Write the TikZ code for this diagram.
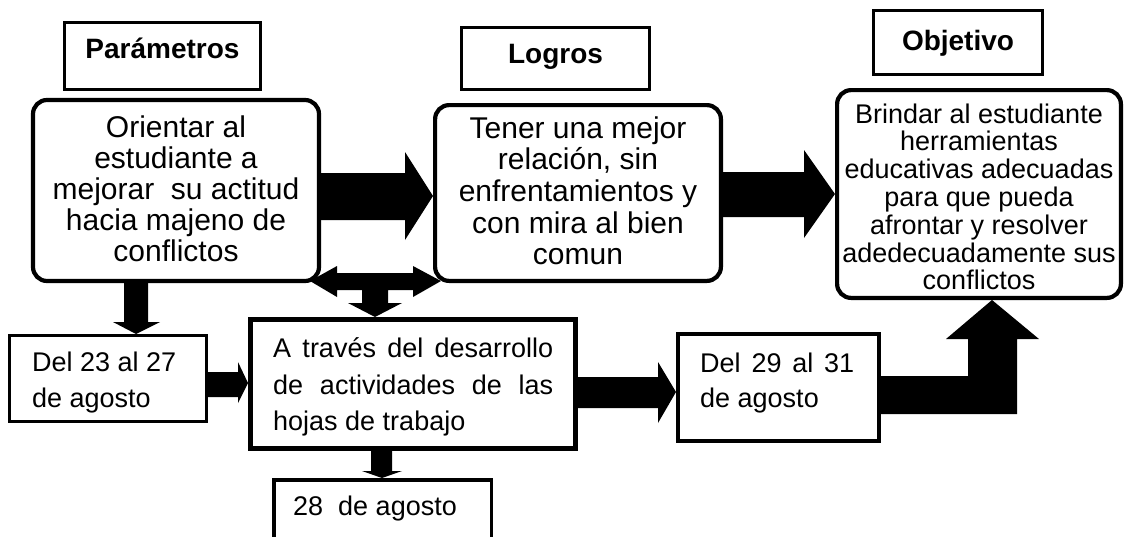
\documentclass[tikz,border=0pt]{standalone}
\usepackage{fontspec}
\setmainfont{Liberation Sans}
\begin{document}
\begin{tikzpicture}[x=1pt,y=-1pt,
  rbox/.style={draw, line width=4.2pt, rounded corners=14pt, inner sep=0pt},
  tbox/.style={draw, line width=3pt, inner sep=0pt},
  sbox/.style={draw, line width=3.3pt, inner sep=0pt},
  txt/.style={inner sep=0pt, anchor=base},
  txtl/.style={inner sep=0pt, anchor=base west},
  blk/.style={fill=black, draw=none}]
\useasboundingbox (0,0) rectangle (1125,536);
\renewcommand{\arraystretch}{1}
% title boxes
\node[tbox, minimum width=196pt, minimum height=67pt] (p) at (162.5,56) {};
\node[tbox, minimum width=188pt, minimum height=62pt] (l) at (555.5,58.5) {};
\node[tbox, minimum width=169pt, minimum height=64pt] (o) at (958,42.5) {};
\node[txt] (pt) at (162.5,58) {\fontsize{28}{30}\selectfont\bfseries Parámetros};
\node[txt] (lt) at (555.5,63) {\fontsize{28}{30}\selectfont\bfseries Logros};
\node[txt] (ot) at (958,50) {\fontsize{28}{30}\selectfont\bfseries Objetivo};
% rounded boxes
\node[rbox, minimum width=286pt, minimum height=181pt] (b1) at (176,190.5) {};
\node[rbox, minimum width=285.8pt, minimum height=175.8pt] (b2) at (578,193) {};
\node[rbox, minimum width=283.8pt, minimum height=207.8pt] (b3) at (979,194) {};
\node[txt] (b1t) at (176,137) {\fontsize{30}{31}\selectfont
  \begin{tabular}[t]{@{}c@{}}Orientar al\\ estudiante a\\ mejorar~ su actitud\\ hacia majeno de\\ conflictos\end{tabular}};
\node[txt] (b2t) at (578,138) {\fontsize{30}{31.7}\selectfont
  \begin{tabular}[t]{@{}c@{}}Tener una mejor\\ relación, sin\\ enfrentamientos y\\ con mira al bien\\ comun\end{tabular}};
\node[txt] (b3t) at (979,123) {\fontsize{27}{27.5}\selectfont
  \begin{tabular}[t]{@{}c@{}}Brindar al estudiante\\ herramientas\\ educativas adecuadas\\ para que pueda\\ afrontar y resolver\\ adedecuadamente sus\\ conflictos\end{tabular}};
% bottom boxes
\node[sbox, minimum width=196.7pt, minimum height=85.7pt] (d23) at (108,378.5) {};
\node[draw, line width=5pt, inner sep=0pt, minimum width=325pt, minimum height=129pt] (at) at (413,384) {};
\node[draw, line width=3.5pt, inner sep=0pt, minimum width=217.5pt, minimum height=63.5pt] (d28) at (382.5,511.5) {};
\node[draw, line width=4pt, inner sep=0pt, minimum width=201pt, minimum height=107pt] (d29) at (778.5,387.5) {};
\node[txtl] (d23t) at (32,371.5) {\fontsize{27}{36}\selectfont
  \begin{tabular}[t]{@{}l@{}}Del 23 al 27\\ de agosto\end{tabular}};
\node[txtl] (att) at (273,357.5) {\fontsize{27}{36.5}\selectfont
  \begin{tabular}[t]{@{}l@{}}\makebox[280pt][s]{A través del desarrollo}\\ \makebox[280pt][s]{de actividades de las}\\ hojas de trabajo\end{tabular}};
\node[txtl] (d28t) at (293,515.5) {\fontsize{27}{30}\selectfont 28~ de agosto};
\node[txtl] (d29t) at (700,372.5) {\fontsize{27}{34.5}\selectfont
  \begin{tabular}[t]{@{}l@{}}\makebox[154pt][s]{Del 29 al 31}\\ de agosto\end{tabular}};
% block arrows
\fill[blk] (b1.east |- 0,173) -- (405,173) -- (405,152) -- (b2.west |- 0,196) -- (405,240) -- (405,220) -- (b1.east |- 0,220) -- cycle;
\fill[blk] (b2.east |- 0,172) -- (804,172) -- (804,150) -- (b3.west |- 0,194) -- (804,238) -- (804,217) -- (b2.east |- 0,217) -- cycle;
\fill[blk] (310,281) -- (337,266) -- (337,273) -- (413,273) -- (413,266) -- (441,281) -- (413,297) -- (413,290) -- (388,290) -- (388,303) -- (402,303) -- ([xshift=-38pt]at.north) -- (348,303) -- (362,303) -- (362,290) -- (337,290) -- (337,297) -- cycle;
\fill[blk] (124,0 |- b1.south) -- (124,322) -- (113,322) -- (136,0 |- d23.north) -- (160,322) -- (148,322) -- (148,0 |- b1.south) -- cycle;
\fill[blk] (d23.east |- 0,372) -- (238,372) -- (238,362) -- (at.west |- 0,383) -- (238,403) -- (238,397) -- (d23.east |- 0,397) -- cycle;
\fill[blk] (371,0 |- at.south) -- (371,471) -- (362,471) -- (382,0 |- d28.north) -- (402,471) -- (392,471) -- (392,0 |- at.south) -- cycle;
\fill[blk] (at.east |- 0,377) -- (658,377) -- (658,362) -- (d29.west |- 0,392) -- (658,423) -- (658,408) -- (at.east |- 0,408) -- cycle;
\fill[blk] (d29.east |- 0,376) -- (968,376) -- (968,339) -- (946,339) -- (992,0 |- b3.south) -- (1039,339) -- (1017,339) -- (1017,414) -- (d29.east |- 0,414) -- cycle;
\end{tikzpicture}
\end{document}
